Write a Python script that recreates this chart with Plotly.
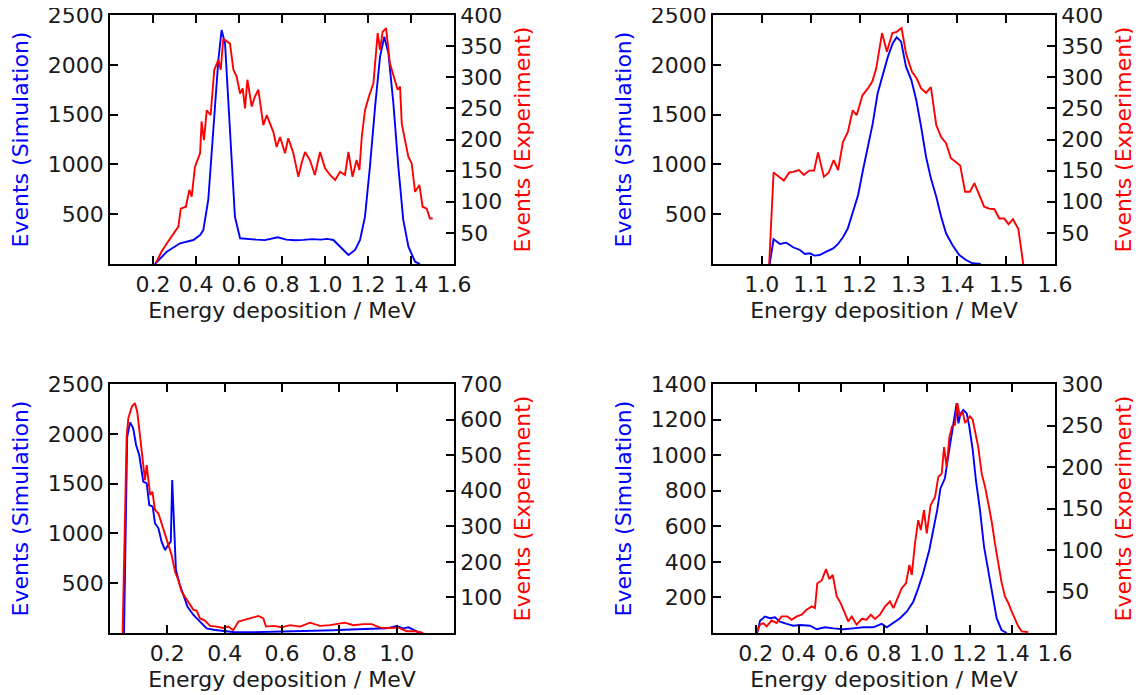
import plotly.graph_objects as go

# ---------------- data ----------------
# Panel A (top-left)
a_sim_E = [0.209, 0.264, 0.326, 0.388, 0.419, 0.434, 0.457, 0.481, 0.504, 0.519, 0.535, 0.550, 0.566, 0.581, 0.605,
           0.64, 0.68, 0.72, 0.76, 0.78, 0.82, 0.86, 0.90, 0.94, 0.98, 1.01, 1.039, 1.070, 1.109, 1.140, 1.163, 1.186,
           1.209, 1.233, 1.256, 1.276, 1.295, 1.318, 1.341, 1.364, 1.388, 1.419, 1.442]
a_sim_N = [0, 123, 208, 241, 291, 341, 643, 1312, 2048, 2349, 2216, 1647, 977, 475, 258,
           250, 245, 240, 255, 268, 245, 238, 242, 250, 245, 252, 241, 174, 90, 141, 241, 475,
           977, 1580, 2082, 2282, 2115, 1613, 977, 442, 174, 23, 0]
a_exp_E = [0.214, 0.240, 0.264, 0.287, 0.318, 0.329, 0.353, 0.369, 0.380, 0.395, 0.419, 0.426, 0.437, 0.450, 0.468,
           0.485, 0.504, 0.515, 0.527, 0.558, 0.574, 0.589, 0.605, 0.617, 0.628, 0.639, 0.659, 0.674, 0.690, 0.713,
           0.729, 0.744, 0.760, 0.775, 0.791, 0.814, 0.829, 0.853, 0.876, 0.891, 0.907, 0.930, 0.953, 0.977, 1.000,
           1.023, 1.047, 1.070, 1.093, 1.109, 1.128, 1.147, 1.160, 1.171, 1.186, 1.206, 1.225, 1.245, 1.256, 1.268,
           1.284, 1.302, 1.318, 1.338, 1.349, 1.357, 1.372, 1.388, 1.403, 1.419, 1.439, 1.454, 1.473, 1.488, 1.501]
a_exp_N = [2, 20, 33, 44, 60, 89, 92, 119, 108, 156, 178, 229, 199, 247, 239,
           312, 328, 312, 362, 354, 312, 301, 274, 282, 250, 296, 253, 269, 280, 223,
           239, 226, 212, 188, 204, 178, 202, 178, 140, 162, 180, 167, 143, 180, 154,
           143, 135, 148, 143, 180, 140, 167, 151, 204, 247, 271, 290, 371, 344, 373,
           379, 322, 304, 280, 285, 226, 199, 172, 162, 116, 127, 92, 89, 73, 73]

# Panel B (top-right)
b_sim_E = [1.016, 1.024, 1.037, 1.050, 1.064, 1.078, 1.088, 1.098, 1.108, 1.118, 1.132, 1.146, 1.156, 1.166, 1.176,
           1.186, 1.197, 1.207, 1.217, 1.227, 1.237, 1.248, 1.258, 1.268, 1.276, 1.285, 1.295, 1.306, 1.316, 1.326,
           1.336, 1.346, 1.357, 1.367, 1.377, 1.390, 1.404, 1.418, 1.431, 1.448]
b_sim_N = [0, 248, 201, 214, 168, 141, 100, 107, 84, 90, 124, 157, 201, 268, 358,
           509, 693, 944, 1178, 1412, 1714, 1898, 2082, 2216, 2276, 2232, 1981, 1847, 1647, 1378,
           1077, 860, 676, 475, 308, 191, 90, 40, 7, 0]
b_exp_E = [1.015, 1.024, 1.037, 1.045, 1.056, 1.064, 1.076, 1.086, 1.097, 1.107, 1.115, 1.127, 1.137, 1.147, 1.156,
           1.166, 1.176, 1.186, 1.194, 1.206, 1.217, 1.226, 1.234, 1.246, 1.256, 1.267, 1.276, 1.286, 1.295, 1.307,
           1.317, 1.326, 1.336, 1.346, 1.357, 1.367, 1.377, 1.387, 1.397, 1.406, 1.416, 1.426, 1.435, 1.445, 1.455,
           1.465, 1.476, 1.486, 1.496, 1.505, 1.514, 1.525, 1.530, 1.535]
b_exp_N = [0, 147, 139, 134, 147, 148, 151, 143, 150, 150, 179, 140, 147, 167, 151,
           196, 212, 247, 239, 271, 282, 293, 314, 371, 341, 371, 373, 379, 338, 309,
           298, 282, 275, 284, 223, 204, 194, 170, 164, 158, 116, 116, 130, 111, 92,
           89, 88, 73, 73, 64, 72, 56, 28, 0]

# Panel C (bottom-left)
c_sim_E = [0.049, 0.056, 0.060, 0.070, 0.081, 0.091, 0.102, 0.116, 0.128, 0.137, 0.149, 0.157, 0.169, 0.180, 0.192,
           0.203, 0.212, 0.217, 0.223, 0.230, 0.242, 0.256, 0.270, 0.291, 0.314, 0.337, 0.366, 0.395, 0.430, 0.50,
           0.58, 0.663, 0.72, 0.779, 0.84, 0.895, 0.965, 1.000, 1.023, 1.041, 1.058, 1.075, 1.087]
c_sim_N = [0, 1637, 1971, 2115, 2055, 1888, 1787, 1519, 1502, 1285, 1268, 1101, 1051, 917, 833,
           884, 917, 1536, 1034, 633, 499, 382, 265, 181, 114, 47, 30, 20, 10, 8,
           12, 17, 22, 27, 35, 40, 47, 70, 47, 57, 30, 10, 0]
c_exp_E = [0.044, 0.052, 0.058, 0.064, 0.076, 0.087, 0.095, 0.105, 0.114, 0.122, 0.128, 0.134, 0.140, 0.148, 0.157,
           0.169, 0.180, 0.192, 0.203, 0.215, 0.227, 0.238, 0.250, 0.262, 0.273, 0.291, 0.302, 0.314, 0.331, 0.349,
           0.372, 0.395, 0.413, 0.430, 0.448, 0.465, 0.483, 0.500, 0.518, 0.535, 0.544, 0.570, 0.599, 0.628, 0.663,
           0.698, 0.732, 0.767, 0.797, 0.820, 0.849, 0.884, 0.913, 0.942, 0.977, 1.006, 1.035, 1.064, 1.093]
c_exp_N = [0, 365, 552, 604, 636, 646, 622, 552, 477, 430, 472, 430, 388, 397, 346,
           336, 308, 276, 252, 219, 172, 149, 116, 102, 88, 65, 63, 41, 35, 20,
           18, 14, 18, 8, 32, 36, 41, 45, 48, 41, 18, 20, 16, 22, 18,
           29, 20, 22, 27, 29, 22, 25, 25, 15, 14, 15, 5, 5, 0]

# Panel D (bottom-right)
d_sim_E = [0.207, 0.220, 0.243, 0.267, 0.290, 0.313, 0.345, 0.376, 0.407, 0.454, 0.485, 0.524, 0.563, 0.610, 0.656,
           0.703, 0.750, 0.789, 0.813, 0.844, 0.875, 0.906, 0.937, 0.960, 0.983, 1.012, 1.031, 1.049, 1.064, 1.085,
           1.100, 1.115, 1.129, 1.140, 1.148, 1.159, 1.171, 1.187, 1.199, 1.215, 1.230, 1.249, 1.268, 1.288, 1.308,
           1.327, 1.350, 1.374]
d_sim_N = [0, 69, 92, 83, 88, 64, 51, 41, 45, 41, 21, 32, 26, 21, 26,
           32, 32, 51, 32, 58, 83, 120, 176, 251, 336, 467, 579, 692, 813, 870,
           991, 1104, 1198, 1292, 1179, 1235, 1254, 1235, 1160, 1029, 860, 692, 485, 354, 204,
           83, 17, 0]
d_exp_E = [0.204, 0.220, 0.235, 0.251, 0.274, 0.298, 0.321, 0.348, 0.368, 0.392, 0.415, 0.438, 0.462, 0.477, 0.488,
           0.508, 0.529, 0.544, 0.560, 0.579, 0.597, 0.618, 0.633, 0.649, 0.672, 0.696, 0.719, 0.738, 0.758, 0.781,
           0.805, 0.828, 0.844, 0.867, 0.883, 0.903, 0.919, 0.930, 0.945, 0.960, 0.972, 0.987, 1.000, 1.018, 1.039,
           1.054, 1.070, 1.081, 1.093, 1.106, 1.118, 1.132, 1.143, 1.155, 1.168, 1.179, 1.192, 1.202, 1.215, 1.226,
           1.241, 1.257, 1.273, 1.288, 1.304, 1.319, 1.335, 1.350, 1.366, 1.382, 1.397, 1.413, 1.428, 1.444, 1.475]
d_exp_N = [0, 10, 12, 8, 15, 12, 20, 20, 16, 20, 22, 28, 32, 30, 60,
           63, 77, 65, 70, 44, 36, 24, 14, 20, 10, 17, 16, 22, 17, 22,
           32, 38, 30, 44, 54, 60, 82, 70, 108, 136, 124, 148, 120, 154, 164,
           188, 192, 224, 200, 236, 249, 251, 277, 261, 267, 253, 257, 261, 257, 241,
           224, 192, 176, 156, 134, 108, 84, 61, 44, 36, 26, 16, 8, 2, 1]

# axis ranges and ticks
x_ranges = [[0, 1.6], [0.9, 1.6], [0, 1.2], [0, 1.6]]
x_ticks = [[0.2, 0.4, 0.6, 0.8, 1.0, 1.2, 1.4, 1.6],
           [1.0, 1.1, 1.2, 1.3, 1.4, 1.5, 1.6],
           [0.2, 0.4, 0.6, 0.8, 1.0],
           [0.2, 0.4, 0.6, 0.8, 1.0, 1.2, 1.4, 1.6]]
yl_ranges = [[0, 2500], [0, 2500], [0, 2500], [0, 1400]]
yl_ticks = [[500, 1000, 1500, 2000, 2500], [500, 1000, 1500, 2000, 2500],
            [500, 1000, 1500, 2000, 2500], [200, 400, 600, 800, 1000, 1200, 1400]]
yr_ranges = [[0, 400], [0, 400], [0, 700], [0, 300]]
yr_ticks = [[50, 100, 150, 200, 250, 300, 350, 400], [50, 100, 150, 200, 250, 300, 350, 400],
            [100, 200, 300, 400, 500, 600, 700], [50, 100, 150, 200, 250, 300]]

x_title = "Energy deposition / MeV"
yl_title = "Events (Simulation)"
yr_title = "Events (Experiment)"

sims = [(a_sim_E, a_sim_N), (b_sim_E, b_sim_N), (c_sim_E, c_sim_N), (d_sim_E, d_sim_N)]
exps = [(a_exp_E, a_exp_N), (b_exp_E, b_exp_N), (c_exp_E, c_exp_N), (d_exp_E, d_exp_N)]

# ---------------- layout ----------------
W, H = 1141, 695
OFF = 8                      # default page margin around the plot div
PW, PH = W - OFF, H - OFF    # figure size so that it fits in the window


def xd(a, b):
    return [(a - OFF) / PW, (b - OFF) / PW]


def yd(top, bottom):
    return [1 - (bottom - OFF) / PH, 1 - (top - OFF) / PH]


x_dom = [xd(110, 454), xd(713, 1055), xd(110, 454), xd(713, 1055)]
y_dom = [yd(15, 264), yd(15, 264), yd(384, 633), yd(384, 633)]

FONT = "DejaVu Sans"
FS = 22
TXT = "#1a1a1a"
BLUE = "#0000ff"
RED = "#ff0000"
TICK = dict(ticks="inside", ticklen=8, tickwidth=1.5, tickcolor="black")

fig = go.Figure()
layout = dict(
    width=PW, height=PH, margin=dict(l=0, r=0, t=0, b=0, autoexpand=False),
    paper_bgcolor="white", plot_bgcolor="white", showlegend=False,
    font=dict(family=FONT, size=FS, color=TXT),
)

for i in range(4):
    xn = "x" if i == 0 else f"x{i + 1}"
    xtop_n = f"x{i + 5}"
    yl_n = 2 * i + 1
    yr_n = 2 * i + 2
    yl_ref = "y" if yl_n == 1 else f"y{yl_n}"
    yr_ref = f"y{yr_n}"
    xkey = "xaxis" if i == 0 else f"xaxis{i + 1}"
    xtopkey = f"xaxis{i + 5}"
    ylkey = "yaxis" if yl_n == 1 else f"yaxis{yl_n}"
    yrkey = f"yaxis{yr_n}"

    fig.add_trace(go.Scatter(x=sims[i][0], y=sims[i][1], mode="lines",
                             line=dict(color=BLUE, width=1.9), xaxis=xn, yaxis=yl_ref))
    fig.add_trace(go.Scatter(x=exps[i][0], y=exps[i][1], mode="lines",
                             line=dict(color=RED, width=1.9), xaxis=xn, yaxis=yr_ref))
    # empty trace so that the top (tick-only) axis is drawn
    fig.add_trace(go.Scatter(x=[None], y=[None], mode="lines", xaxis=xtop_n, yaxis=yl_ref,
                             hoverinfo="skip", showlegend=False))

    layout[xkey] = dict(
        type="linear", domain=x_dom[i], anchor=yl_ref, range=x_ranges[i], automargin=False,
        tickmode="array", tickvals=x_ticks[i], ticktext=[f"{v:.1f}" for v in x_ticks[i]],
        showline=True, linecolor="black", linewidth=1.5, mirror=False,
        showgrid=False, zeroline=False, ticklabeloverflow="allow",
        tickfont=dict(family=FONT, size=FS, color=TXT),
        title=dict(text=x_title, font=dict(family=FONT, size=FS, color=TXT), standoff=6),
        **TICK,
    )
    layout[xtopkey] = dict(
        type="linear", domain=x_dom[i], anchor=yl_ref, overlaying=xn, side="top",
        range=x_ranges[i], automargin=False,
        tickmode="array", tickvals=x_ticks[i], ticktext=["" for _ in x_ticks[i]],
        showticklabels=True,
        showline=True, linecolor="black", linewidth=1.5,
        showgrid=False, zeroline=False,
        **TICK,
    )
    layout[ylkey] = dict(
        type="linear", domain=y_dom[i], anchor=xn, range=yl_ranges[i], automargin=False,
        tickmode="array", tickvals=yl_ticks[i], ticktext=[str(v) for v in yl_ticks[i]],
        showline=True, linecolor="black", linewidth=1.5, mirror=False,
        showgrid=False, zeroline=False, ticklabeloverflow="allow",
        tickfont=dict(family=FONT, size=FS, color=TXT),
        title=dict(text=yl_title, font=dict(family=FONT, size=FS, color=BLUE), standoff=13),
        **TICK,
    )
    layout[yrkey] = dict(
        type="linear", domain=y_dom[i], anchor=xn, overlaying=yl_ref, side="right",
        range=yr_ranges[i], automargin=False,
        tickmode="array", tickvals=yr_ticks[i], ticktext=[str(v) for v in yr_ticks[i]],
        showline=True, linecolor="black", linewidth=1.5,
        showgrid=False, zeroline=False, ticklabeloverflow="allow",
        tickfont=dict(family=FONT, size=FS, color=TXT),
        title=dict(text=yr_title, font=dict(family=FONT, size=FS, color=RED), standoff=13),
        **TICK,
    )

fig.update_layout(**layout)
fig.write_html("out.html")
